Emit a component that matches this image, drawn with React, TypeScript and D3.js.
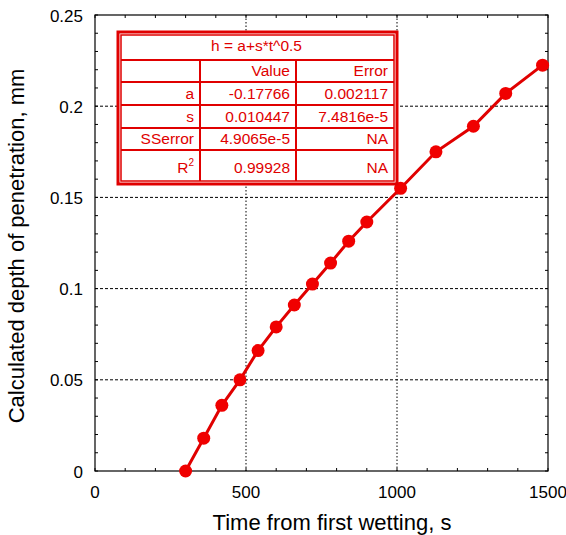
import { useRef, useEffect } from "react";
import * as d3 from "d3";

const times = [300, 360, 420, 480, 540, 600, 660, 720, 780, 840, 900, 1012, 1129, 1253, 1360, 1482];
const depths = [0, 0.018, 0.036, 0.05, 0.066, 0.079, 0.091, 0.1025, 0.114, 0.126, 0.1365, 0.155, 0.175, 0.189, 0.207, 0.2225];
const xTicks = [0, 500, 1000, 1500];
const yTicks = [0, 0.05, 0.1, 0.15, 0.2, 0.25];
const tableRows = [
  ["", "Value", "Error"],
  ["a", "-0.17766", "0.002117"],
  ["s", "0.010447", "7.4816e-5"],
  ["SSerror", "4.9065e-5", "NA"],
  ["R2", "0.99928", "NA"],
];

export default function App() {
  const ref = useRef<SVGSVGElement>(null);

  useEffect(() => {
    const svg = d3.select(ref.current);
    svg.selectAll("*").remove();
    const W = 566, H = 535;
    const L = 95, R = 548, T = 15, B = 471;
    const font = "Liberation Sans, Arial, sans-serif";
    const red = "#e00000";

    const x = d3.scaleLinear().domain([0, 1500]).range([L, R]);
    const y = d3.scaleLinear().domain([0, 0.25]).range([B, T]);

    svg.append("rect").attr("width", W).attr("height", H).attr("fill", "#fff");

    // grid
    const g = svg.append("g");
    g.selectAll(".gx").data(xTicks.slice(1, -1)).join("line")
      .attr("x1", d => x(d)).attr("x2", d => x(d)).attr("y1", T).attr("y2", B)
      .attr("stroke", "#000").attr("stroke-dasharray", "1.5,2").attr("stroke-width", 1);
    g.selectAll(".gy").data(yTicks.slice(1, -1)).join("line")
      .attr("y1", d => y(d)).attr("y2", d => y(d)).attr("x1", L).attr("x2", R)
      .attr("stroke", "#000").attr("stroke-dasharray", "3,2").attr("stroke-width", 1);

    // minor ticks
    const xMinor = d3.range(0, 1501, 100);
    const yMinor = d3.range(0, 0.2501, 0.01);
    g.selectAll(".mx").data(xMinor).join("line")
      .attr("x1", d => x(d)).attr("x2", d => x(d)).attr("y1", B).attr("y2", B - 3).attr("stroke", "#000");
    g.selectAll(".mx2").data(xMinor).join("line")
      .attr("x1", d => x(d)).attr("x2", d => x(d)).attr("y1", T).attr("y2", T + 3).attr("stroke", "#000");
    g.selectAll(".my").data(yMinor).join("line")
      .attr("y1", d => y(d)).attr("y2", d => y(d)).attr("x1", L).attr("x2", L + 3).attr("stroke", "#000");
    g.selectAll(".my2").data(yMinor).join("line")
      .attr("y1", d => y(d)).attr("y2", d => y(d)).attr("x1", R).attr("x2", R - 3).attr("stroke", "#000");

    g.append("rect").attr("x", L).attr("y", T).attr("width", R - L).attr("height", B - T)
      .attr("fill", "none").attr("stroke", "#000").attr("stroke-width", 1.2);

    // tick labels
    svg.selectAll(".xl").data(xTicks).join("text")
      .attr("x", d => x(d)).attr("y", B + 27).attr("text-anchor", "middle")
      .attr("font-family", font).attr("font-size", 17).text(d => String(d));
    svg.selectAll(".yl").data(yTicks).join("text")
      .attr("x", L - 12).attr("y", d => y(d) + 6.5).attr("text-anchor", "end")
      .attr("font-family", font).attr("font-size", 17).text(d => String(d));

    svg.append("text").attr("x", 332).attr("y", 530).attr("text-anchor", "middle")
      .attr("font-family", font).attr("font-size", 22).text("Time from first wetting, s");
    svg.append("text").attr("transform", `translate(24,246) rotate(-90)`)
      .attr("text-anchor", "middle").attr("font-family", font).attr("font-size", 22)
      .text("Calculated depth of penetration, mm");

    // data
    const pts = times.map((t, i) => [t, depths[i]] as [number, number]);
    const line = d3.line<[number, number]>().x(d => x(d[0])).y(d => y(d[1]));
    svg.append("path").attr("d", line(pts)).attr("fill", "none")
      .attr("stroke", red).attr("stroke-width", 3);
    svg.selectAll(".pt").data(pts).join("circle")
      .attr("cx", d => x(d[0])).attr("cy", d => y(d[1])).attr("r", 6.5).attr("fill", "#f00000");

    // table
    const tx = 118, ty = 32, tw = 279, th = 152;
    const cols = [tx + 3, 200, 296, tx + tw - 3];
    const rowsY = [ty + 3, 60, 82, 105, 128, 150, ty + th - 3];
    const tb = svg.append("g");
    tb.append("rect").attr("x", tx).attr("y", ty).attr("width", tw).attr("height", th)
      .attr("fill", "#fff").attr("stroke", red).attr("stroke-width", 3);
    tb.append("rect").attr("x", cols[0]).attr("y", rowsY[0]).attr("width", cols[3] - cols[0])
      .attr("height", rowsY[6] - rowsY[0]).attr("fill", "none").attr("stroke", red).attr("stroke-width", 1.5);
    rowsY.slice(1, -1).forEach(ry => {
      tb.append("line").attr("x1", cols[0]).attr("x2", cols[3]).attr("y1", ry).attr("y2", ry)
        .attr("stroke", red).attr("stroke-width", 2);
    });
    [cols[1], cols[2]].forEach(cx => {
      tb.append("line").attr("x1", cx).attr("x2", cx).attr("y1", rowsY[1]).attr("y2", rowsY[6])
        .attr("stroke", red).attr("stroke-width", 2);
    });
    tb.append("text").attr("x", 256.5).attr("y", 51).attr("text-anchor", "middle")
      .attr("font-family", font).attr("font-size", 15.5).attr("fill", red).text("h = a+s*t^0.5");
    tableRows.forEach((row, ri) => {
      const yb = rowsY[ri + 2] - 6 - (ri === 4 ? 2 : 0);
      row.forEach((cell, ci) => {
        const t = tb.append("text").attr("x", cols[ci + 1] - 6).attr("y", yb).attr("text-anchor", "end")
          .attr("font-family", font).attr("font-size", 15.5).attr("fill", red);
        if (cell === "R2") {
          t.text("R");
          t.append("tspan").attr("font-size", 10).attr("dy", -7).text("2");
        } else t.text(cell);
      });
    });
  }, []);

  return <svg ref={ref} width={566} height={535} style={{ position: "absolute", left: 0, top: 0 }}></svg>;
}
